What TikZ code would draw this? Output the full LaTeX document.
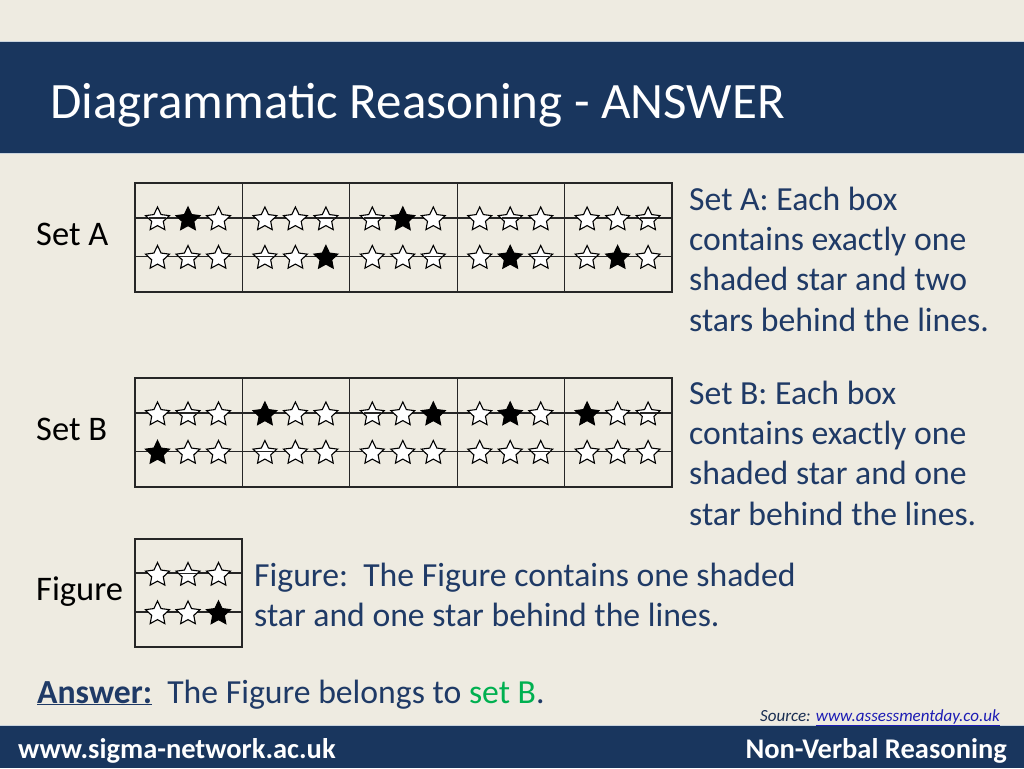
\documentclass[tikz,border=0pt]{standalone}
\usepackage{fontspec}
\setmainfont{Carlito}
\usetikzlibrary{shapes.geometric}
\definecolor{bg}{HTML}{EEEBE1}
\definecolor{navy}{HTML}{19365E}
\definecolor{txt}{HTML}{1F3A66}
\definecolor{grn}{HTML}{00B050}
\definecolor{lnk}{HTML}{1C1CB4}
\definecolor{edge}{HTML}{C9D3DD}
\newcommand\fs[1]{\fontsize{#1}{1.2\dimexpr#1pt\relax}\selectfont}
% #1 name, #2 x left, #3 y top, #4 filled row, #5 filled pos, #6-#9 behind (row,pos) pairs
\newcommand\onecell[9]{%
  \foreach \r/\dy in {1/35,2/73.5}{%
    \foreach \p/\dx in {1/22.5,2/53,3/83.5}{%
      \pgfmathtruncatemacro\isfill{(\r==#4 && \p==#5) ? 1 : 0}%
      \pgfmathtruncatemacro\isbehind{((\r==#6 && \p==#7) || (\r==#8 && \p==#9)) ? 1 : 0}%
      \ifnum\isfill=1
        \node[stbox, fill=black] (#1-\r-\p) at (#2+\dx,#3+\dy+1.5) {};
      \else
        \node[stbox, fill=white] (#1-\r-\p) at (#2+\dx,#3+\dy+1.5) {};
      \fi
      \ifnum\isbehind=1
        \draw[gridline] (#1-\r-\p.west |- 0,#3+\dy) -- (#1-\r-\p.east |- 0,#3+\dy);
      \fi
    }%
  }%
}
\begin{document}
\begin{tikzpicture}[x=1pt,y=-1pt,
  stbox/.style={star, star points=5, star point ratio=2.05, minimum size=25pt, inner sep=0pt, draw=black, line width=1.1pt},
  gridline/.style={draw=black!85, line width=1.1pt},
  boxframe/.style={draw=black!85, line width=1.3pt},
  body/.style={text=txt, font=\fs{33.7}, inner sep=0pt, align=left},
  lab/.style={text=black, font=\fs{34.5}, inner sep=0pt}]
\useasboundingbox (0,0) rectangle (1024,768);
\fill[bg] (0,0) rectangle (1024,768);
% top band
\fill[navy] (0,42) rectangle (1024,153);
\draw[edge, line width=1pt] (0,41.5) -- (1024,41.5);
\draw[edge, line width=1pt] (0,153.5) -- (1024,153.5);
\node[anchor=base west, text=white, font=\fs{51}, inner sep=0pt] (title) at (50,118) {Diagrammatic Reasoning - ANSWER};
% bottom band
\fill[navy] (0,726) rectangle (1024,768);
\draw[edge, line width=1pt] (0,725.5) -- (1024,725.5);
\node[anchor=base west, text=white, font=\fs{28.5}\bfseries, inner sep=0pt] (web) at (18,758) {www.sigma-network.ac.uk};
\node[anchor=base east, text=white, font=\fs{28.5}\bfseries, inner sep=0pt] (nvr) at (1007,758) {Non-Verbal Reasoning};
\node[anchor=base east, text=txt!80!black, font=\fs{17}\itshape, inner sep=0pt] (src) at (1000,721) {Source: \textcolor{lnk}{\underline{www.assessmentday.co.uk}}};

% ---- Set A
\node[lab, anchor=base west] (labA) at (36,245) {Set A};
\foreach \i in {0,...,4}{\draw[gridline] (135+\i*107.4,183) rectangle (135+\i*107.4+107.4,292);}
\draw[gridline] (135,218) -- (672,218);
\draw[gridline] (135,256.5) -- (672,256.5);
\onecell{a1}{135}{183}{1}{2}{1}{1}{2}{2}
\onecell{a2}{242.4}{183}{2}{3}{1}{3}{2}{1}
\onecell{a3}{349.8}{183}{1}{2}{2}{3}{1}{1}
\onecell{a4}{457.2}{183}{2}{2}{1}{2}{2}{3}
\onecell{a5}{564.6}{183}{2}{2}{1}{3}{2}{1}
\draw[boxframe] (135,183) rectangle (672,292);
\node[body, anchor=north west] (txtA) at (689,186.5) {Set A: Each box\\contains exactly one\\shaded star and two\\stars behind the lines.};

% ---- Set B
\node[lab, anchor=base west] (labB) at (36,440) {Set B};
\foreach \i in {0,...,4}{\draw[gridline] (135+\i*107.4,378) rectangle (135+\i*107.4+107.4,487);}
\draw[gridline] (135,413) -- (672,413);
\draw[gridline] (135,451.5) -- (672,451.5);
\onecell{b1}{135}{378}{2}{1}{1}{2}{0}{0}
\onecell{b2}{242.4}{378}{1}{1}{2}{1}{0}{0}
\onecell{b3}{349.8}{378}{1}{3}{1}{1}{0}{0}
\onecell{b4}{457.2}{378}{1}{2}{2}{3}{0}{0}
\onecell{b5}{564.6}{378}{1}{1}{1}{3}{0}{0}
\draw[boxframe] (135,378) rectangle (672,487);
\node[body, anchor=north west] (txtB) at (689,380.5) {Set B: Each box\\contains exactly one\\shaded star and one\\star behind the lines.};

% ---- Figure
\node[lab, anchor=base west] (labF) at (36,600) {Figure};
\draw[gridline] (135,573) -- (242,573);
\draw[gridline] (135,612) -- (242,612);
\onecell{f}{135}{538.5}{2}{3}{1}{2}{0}{0}
\draw[boxframe] (135,539) rectangle (242,647);
\node[body, anchor=north west] (txtF) at (254,562.5) {Figure:\ \ The Figure contains one shaded\\star and one star behind the lines.};

% ---- Answer
\node[body, anchor=base west] (ans) at (37,703) {\textbf{\underline{Answer:}}\ \ The Figure belongs to \textcolor{grn}{set B}.};
\end{tikzpicture}
\end{document}
